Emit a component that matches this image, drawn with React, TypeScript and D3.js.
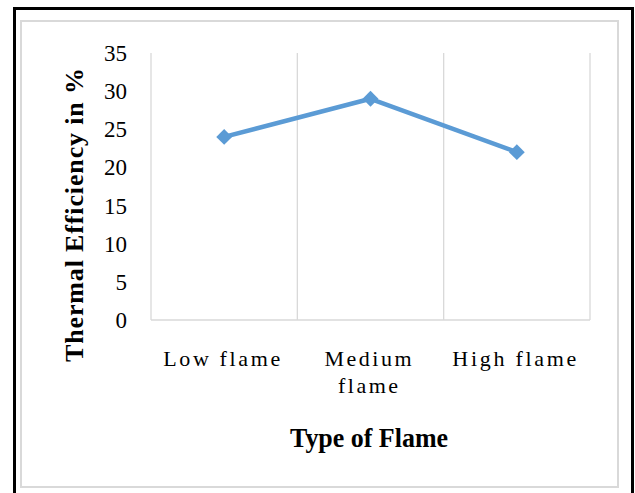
import React from "react";
import * as d3 from "d3";

// Thermal efficiency measured for each flame setting
const flameTypes: string[][] = [["Low flame"], ["Medium", "flame"], ["High flame"]];
const flameKeys: string[] = ["Low flame", "Medium flame", "High flame"];
const efficiency: number[] = [24, 29, 22];
const yTicks: number[] = [0, 5, 10, 15, 20, 25, 30, 35];

const W = 635;
const H = 493;
const plot = { left: 151, right: 590, top: 53, bottom: 320 };
const lineColor = "#5B9BD5";
const gridColor = "#d9d9d9";
const serif = "'Liberation Serif', 'Times New Roman', Times, serif";

// Widths used to fit each category label line
const labelWidths: Record<string, number> = {
  "Low flame": 117,
  Medium: 87,
  flame: 60,
  "High flame": 124,
};

export default function App() {
  const x = d3
    .scaleBand<string>()
    .domain(flameKeys)
    .range([plot.left, plot.right])
    .paddingInner(0)
    .paddingOuter(0);
  const y = d3.scaleLinear().domain([0, 35]).range([plot.bottom, plot.top]);

  const pts: [number, number][] = efficiency.map((v, i) => [
    (x(flameKeys[i]) as number) + x.bandwidth() / 2,
    y(v),
  ]);
  const line = d3.line()(pts) as string;
  const diamond = d3.symbol().type(d3.symbolDiamond2).size(160)() as string;

  const gridXs = [...flameKeys.map((k) => x(k) as number), plot.right];

  return (
    <svg
      width={W}
      height={H}
      style={{ position: "absolute", left: 0, top: 0, background: "#fff" }}
    >
      {/* outer frame: black on three sides */}
      <path
        d={`M14.5,${H} V8.5 H632.5 V${H}`}
        fill="none"
        stroke="#000"
        strokeWidth={3}
      />
      {/* chart area border */}
      <rect x={21} y={21} width={597} height={466} fill="#fff" stroke={gridColor} strokeWidth={2} />

      {/* vertical gridlines and base line */}
      {gridXs.map((gx, i) => (
        <line key={i} x1={gx} x2={gx} y1={plot.top} y2={plot.bottom} stroke={gridColor} strokeWidth={1.3} />
      ))}
      <line x1={plot.left} x2={plot.right} y1={plot.bottom} y2={plot.bottom} stroke={gridColor} strokeWidth={1.3} />

      {/* y tick labels */}
      {yTicks.map((t) => (
        <text
          key={t}
          x={127}
          y={y(t)}
          dy="0.35em"
          textAnchor="end"
          fontFamily={serif}
          fontSize={23}
          fill="#000"
        >
          {t}
        </text>
      ))}

      {/* category labels */}
      {flameTypes.map((lines, i) => {
        const cx = (x(flameKeys[i]) as number) + x.bandwidth() / 2 - 2.5;
        return lines.map((ln, j) => (
          <text
            key={`${i}-${j}`}
            x={cx}
            y={366 + j * 27}
            textAnchor="middle"
            fontFamily={serif}
            fontSize={22}
            textLength={labelWidths[ln]}
            lengthAdjust="spacing"
            fill="#000"
          >
            {ln}
          </text>
        ));
      })}

      {/* data line */}
      <path d={line} fill="none" stroke={lineColor} strokeWidth={4.5} strokeLinejoin="round" />
      {pts.map(([px, py], i) => (
        <path key={i} d={diamond} transform={`translate(${px},${py})`} fill={lineColor} />
      ))}

      {/* axis titles */}
      <text
        x={369}
        y={447}
        textAnchor="middle"
        fontFamily={serif}
        fontWeight="bold"
        fontSize={27}
        textLength={158}
        lengthAdjust="spacingAndGlyphs"
        fill="#000"
      >
        Type of Flame
      </text>
      <text
        transform="translate(83,215) rotate(-90)"
        textAnchor="middle"
        fontFamily={serif}
        fontWeight="bold"
        fontSize={26}
        textLength={294}
        lengthAdjust="spacing"
        fill="#000"
      >
        Thermal Efficiency in %
      </text>
    </svg>
  );
}
